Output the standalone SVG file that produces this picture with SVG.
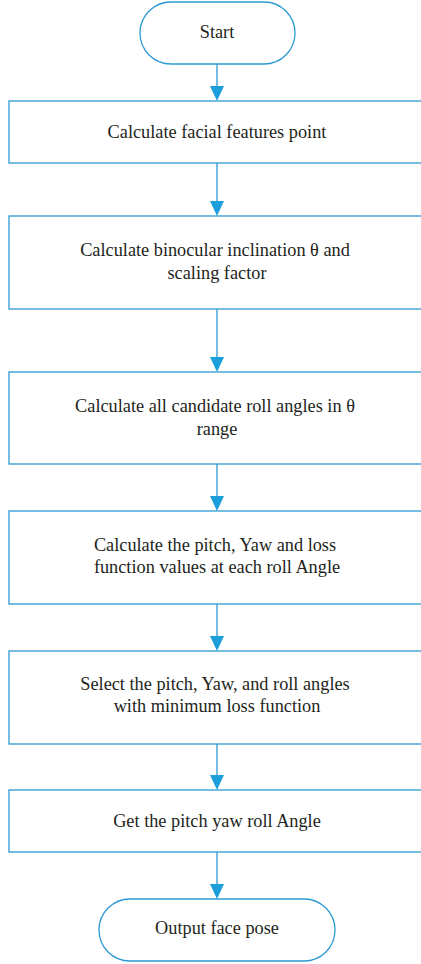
<svg xmlns="http://www.w3.org/2000/svg" width="421" height="964" viewBox="0 0 421 964">
<defs>
<style>
.n{fill:#fff;stroke:#2b9ad2;stroke-width:1.3}
.t{font-family:"Liberation Serif","Times New Roman",serif;font-size:18.3px;fill:#231f20;text-anchor:middle}
.c{stroke:#2b9ad2;stroke-width:1.3;fill:none}
.a{fill:#1d9fdc}
</style>
</defs>
<rect width="421" height="964" fill="#fff"/>
<g id="connectors">
<line class="c" x1="217" y1="64" x2="217" y2="86"/>
<path class="a" d="M210,86 L224,86 L217,101 Z"/>
<line class="c" x1="217" y1="163" x2="217" y2="201"/>
<path class="a" d="M210,201 L224,201 L217,216 Z"/>
<line class="c" x1="217" y1="309" x2="217" y2="357"/>
<path class="a" d="M210,357 L224,357 L217,372 Z"/>
<line class="c" x1="217" y1="464" x2="217" y2="496"/>
<path class="a" d="M210,496 L224,496 L217,511 Z"/>
<line class="c" x1="217" y1="604" x2="217" y2="636"/>
<path class="a" d="M210,636 L224,636 L217,651 Z"/>
<line class="c" x1="217" y1="744" x2="217" y2="775"/>
<path class="a" d="M210,775 L224,775 L217,790 Z"/>
<line class="c" x1="217" y1="852" x2="217" y2="884"/>
<path class="a" d="M210,884 L224,884 L217,899 Z"/>
</g>
<g id="start">
<rect class="n" x="140" y="2" width="155" height="62" rx="31" ry="31"/>
<text class="t" x="217" y="38">Start</text>
</g>
<g id="step1">
<rect class="n" x="9" y="101" width="420" height="62"/>
<text class="t" x="217" y="138">Calculate facial features point</text>
</g>
<g id="step2">
<rect class="n" x="9" y="216" width="420" height="93"/>
<text class="t" x="215" y="256">Calculate binocular inclination θ and</text>
<text class="t" x="217" y="279">scaling factor</text>
</g>
<g id="step3">
<rect class="n" x="9" y="372" width="420" height="92"/>
<text class="t" x="215" y="412">Calculate all candidate roll angles in θ</text>
<text class="t" x="217" y="435">range</text>
</g>
<g id="step4">
<rect class="n" x="9" y="511" width="420" height="93"/>
<text class="t" x="215" y="551">Calculate the pitch, Yaw and loss</text>
<text class="t" x="217" y="573">function values at each roll Angle</text>
</g>
<g id="step5">
<rect class="n" x="9" y="651" width="420" height="93"/>
<text class="t" x="215" y="690">Select the pitch, Yaw, and roll angles</text>
<text class="t" x="217" y="712">with minimum loss function</text>
</g>
<g id="step6">
<rect class="n" x="9" y="790" width="420" height="62"/>
<text class="t" x="217" y="827">Get the pitch yaw roll Angle</text>
</g>
<g id="end">
<rect class="n" x="99" y="899" width="236" height="62" rx="31" ry="31"/>
<text class="t" x="217" y="934">Output face pose</text>
</g>
</svg>
